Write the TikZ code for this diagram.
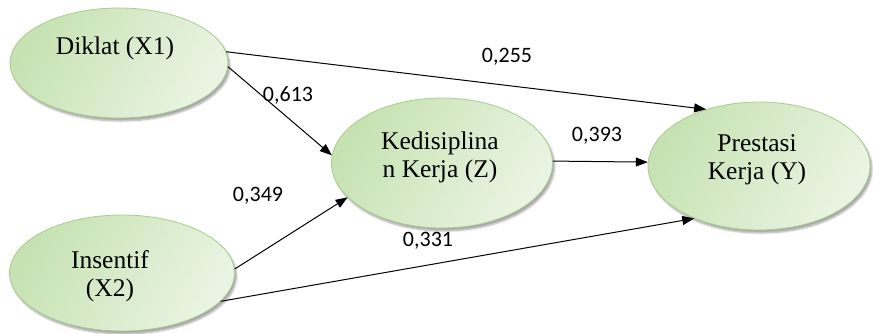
\documentclass[tikz,border=0pt]{standalone}
\usepackage{fontspec}
\setmainfont{Liberation Serif}
\newfontfamily\numfont{Carlito}
\usetikzlibrary{shapes.geometric,arrows.meta,shadows.blur}

\definecolor{gdark}{HTML}{C6E2B2}
\definecolor{glight}{HTML}{EAF4E3}
\definecolor{gedge}{HTML}{A6CD8C}

\tikzset{
  construct/.style={ellipse, inner sep=0pt, draw=gedge, line width=0.8pt,
    left color=gdark, right color=glight, shading angle=60,
    blur shadow={shadow xshift=2pt, shadow yshift=-3pt,
      shadow blur steps=6, shadow opacity=35}},
  caption/.style={font=\fontsize{25.5}{28}\selectfont, align=center,
    inner sep=0pt},
  coef/.style={font=\numfont\fontsize{22}{24}\selectfont, inner sep=0pt},
  path/.style={line width=1pt, -{Triangle[length=12pt,width=9pt]}}
}

\begin{document}
\begin{tikzpicture}[x=1pt, y=-1pt]
  \useasboundingbox (0,0) rectangle (873,333);

  % latent constructs
  \node[construct, minimum width=218pt, minimum height=110pt] (d) at (119,63) {};
  \node[construct, minimum width=225pt, minimum height=116pt] (i) at (122,273) {};
  \node[construct, minimum width=221pt, minimum height=130pt] (k) at (442,163) {};
  \node[construct, minimum width=222pt, minimum height=128pt] (y) at (759,166) {};

  % construct names
  \node[caption] (dT) at (115,48) {Diklat (X1)};
  \node[caption] (iT) at (110,276) {Insentif\\(X2)};
  \node[caption] (kT) at (440,157) {Kedisiplina\\n Kerja (Z)};
  \node[caption] (yT) at (757,160) {Prestasi\\Kerja (Y)};

  % structural paths
  \draw[path] (d.6) -- (y.133);
  \draw[path] (d.-2) -- (k.176);
  \draw[path] (i.2) -- (k.200);
  \draw[path] (i.-16) -- (y.219);
  \draw[path] (k.1) -- (y.178);

  % path coefficients
  \node[coef] (c1) at (507,57) {0,255};
  \node[coef] (c2) at (288,95) {0,613};
  \node[coef] (c3) at (258,196) {0,349};
  \node[coef] (c4) at (428,241) {0,331};
  \node[coef] (c5) at (597,136) {0,393};
\end{tikzpicture}
\end{document}
